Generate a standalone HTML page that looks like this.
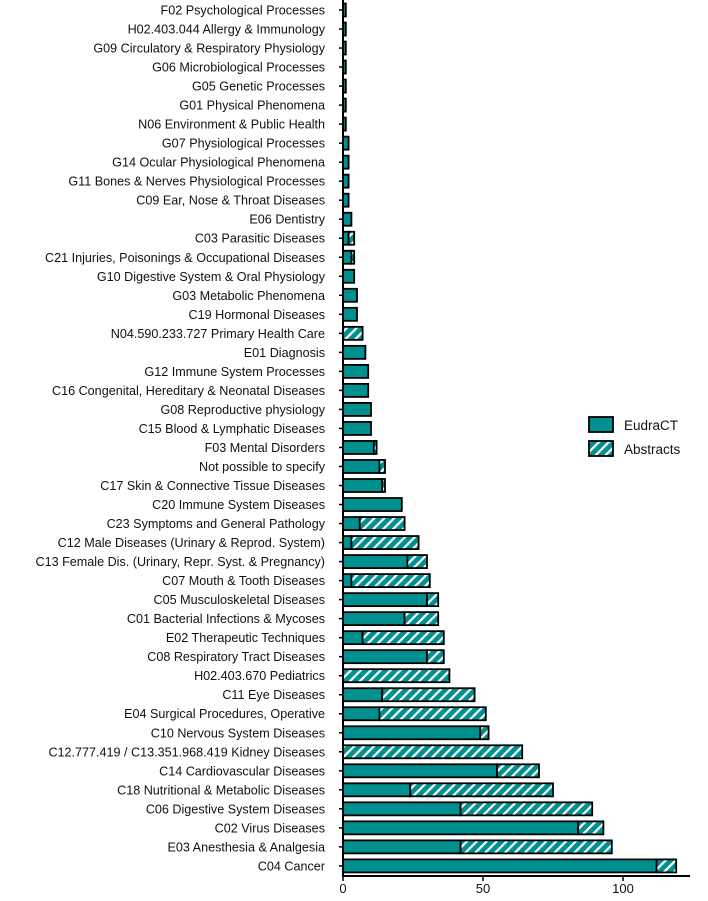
<!DOCTYPE html>
<html><head><meta charset="utf-8"><style>
body{margin:0;background:#fff;font-family:"Liberation Sans",Arial,sans-serif}
</style></head><body>
<svg id="chart" width="708" height="896" xmlns="http://www.w3.org/2000/svg">
<defs>
<pattern id="hatch" patternUnits="userSpaceOnUse" width="7" height="7" patternTransform="rotate(45)">
<rect width="7" height="7" fill="#009090"/>
<rect x="0" y="0" width="2.2" height="7" fill="#fff"/>
</pattern>
</defs>
<g id="bars"></g>
<g id="labels"></g>
<g id="axis"></g>
<g id="legend">
<rect x="589" y="417" width="24" height="15" fill="#009090" stroke="#000" stroke-width="1.8"/>
<text x="624" y="430" font-size="13.5" fill="#111">EudraCT</text>
<rect x="589" y="441" width="24" height="15" fill="url(#hatch)" stroke="#000" stroke-width="1.8"/>
<text x="624" y="454" font-size="13.5" fill="#111">Abstracts</text>
</g>
</svg>
<script>
const categories=["F02 Psychological Processes","H02.403.044 Allergy & Immunology","G09 Circulatory & Respiratory Physiology","G06 Microbiological Processes","G05 Genetic Processes","G01 Physical Phenomena","N06 Environment & Public Health","G07 Physiological Processes","G14 Ocular Physiological Phenomena","G11 Bones & Nerves Physiological Processes","C09 Ear, Nose & Throat Diseases","E06 Dentistry","C03 Parasitic Diseases","C21 Injuries, Poisonings & Occupational Diseases","G10 Digestive System & Oral Physiology","G03 Metabolic Phenomena","C19 Hormonal Diseases","N04.590.233.727 Primary Health Care","E01 Diagnosis","G12 Immune System Processes","C16 Congenital, Hereditary & Neonatal Diseases","G08 Reproductive physiology","C15 Blood & Lymphatic Diseases","F03 Mental Disorders","Not possible to specify","C17 Skin & Connective Tissue Diseases","C20 Immune System Diseases","C23 Symptoms and General Pathology","C12 Male Diseases (Urinary & Reprod. System)","C13 Female Dis. (Urinary, Repr. Syst. & Pregnancy)","C07 Mouth & Tooth Diseases","C05 Musculoskeletal Diseases","C01 Bacterial Infections & Mycoses","E02 Therapeutic Techniques","C08 Respiratory Tract Diseases","H02.403.670 Pediatrics","C11 Eye Diseases","E04 Surgical Procedures, Operative","C10 Nervous System Diseases","C12.777.419 / C13.351.968.419 Kidney Diseases","C14 Cardiovascular Diseases","C18 Nutritional & Metabolic Diseases","C06 Digestive System Diseases","C02 Virus Diseases","E03 Anesthesia & Analgesia","C04 Cancer"];
const eudract=[1,1,1,1,1,1,1,2,2,2,2,3,2,3,4,5,5,0,8,9,9,10,10,11,13,14,21,6,3,23,3,30,22,7,30,0,14,13,49,0,55,24,42,84,42,112];
const abstracts=[0,0,0,0,0,0,0,0,0,0,0,0,2,1,0,0,0,7,0,0,0,0,0,1,2,1,0,16,24,7,28,4,12,29,6,38,33,38,3,64,15,51,47,9,54,7];
const tickValues=[0,50,100];
const NS="http://www.w3.org/2000/svg";
const x0=343, pxPer=2.80, y0=10, step=19.02, bh=13, axisY=876;
const xs=v=>x0+v*pxPer;
const ys=i=>y0+i*step;
function mk(tag,attrs,parent){const e=document.createElementNS(NS,tag);for(const k in attrs)e.setAttribute(k,attrs[k]);parent.appendChild(e);return e;}
const bars=document.getElementById('bars'),labels=document.getElementById('labels'),axis=document.getElementById('axis');
categories.forEach((c,i)=>{
  const cy=ys(i);
  const e=eudract[i],a=abstracts[i];
  if(e>0){const r=mk('rect',{x:xs(0),y:cy-bh/2,width:xs(e)-xs(0),height:bh,fill:'#009090',stroke:'#000','stroke-width':1.8},bars);
    
    }
  if(a>0){const r=mk('rect',{x:xs(e),y:cy-bh/2,width:xs(e+a)-xs(e),height:bh,fill:'url(#hatch)',stroke:'#000','stroke-width':1.8},bars);
    
    }
  const t=mk('text',{x:325,y:cy+4.5,'text-anchor':'end','font-size':12.6,fill:'#111'},labels);
  t.textContent=c;
  
  
  const tk=mk('line',{x1:x0-4,x2:x0,y1:cy,y2:cy,stroke:'#000','stroke-width':1.5},axis);
  
  
});
const ya=mk('line',{x1:x0,x2:x0,y1:0,y2:axisY,stroke:'#000','stroke-width':2},axis);


const xa=mk('line',{x1:x0-1,x2:690,y1:axisY,y2:axisY,stroke:'#000','stroke-width':2},axis);


tickValues.forEach(v=>{
  const l=mk('line',{x1:xs(v),x2:xs(v),y1:axisY,y2:axisY+5,stroke:'#000','stroke-width':1.5},axis);
  
  
  const t=mk('text',{x:xs(v),y:axisY+17,'text-anchor':'middle','font-size':13,fill:'#111'},axis);
  t.textContent=v;
  
  
});
</script>
</body></html>
